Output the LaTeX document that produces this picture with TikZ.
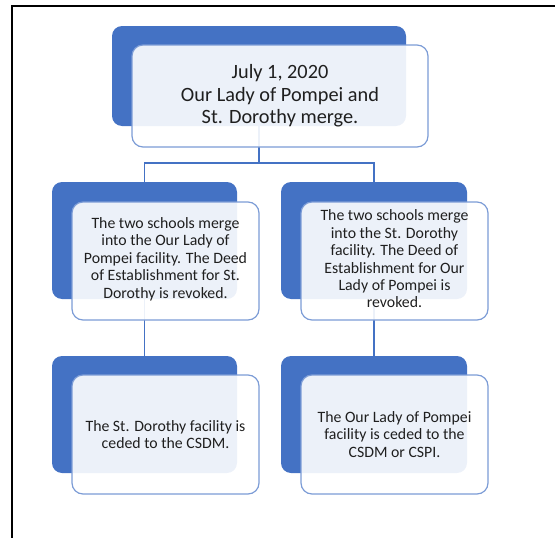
\documentclass[tikz,border=0pt]{standalone}
\usepackage{fontspec}
\setmainfont{Carlito}
\usetikzlibrary{backgrounds}
\definecolor{accent}{HTML}{4472C4}
\definecolor{frontline}{HTML}{7C9CD6}
\definecolor{txt}{HTML}{1F1F1F}
\tikzset{
  backbox/.style={fill=accent, draw=none, rounded corners=10pt, inner sep=0pt},
  frontbox/.style={fill=white, fill opacity=0.9, text opacity=1, draw=frontline, line width=1.2pt,
    rounded corners=11pt, inner sep=0pt, align=center, text=txt},
  boxtext/.style={inner sep=0pt, align=center, text=txt},
  midtext/.style={font=\fontsize{15.8}{17.4}\selectfont},
  toptext/.style={font=\fontsize{20.3}{22.5}\selectfont},
  link/.style={draw=accent, line width=1.2pt},
  frame/.style={draw=black, line width=1.4pt}
}
\begin{document}
\begin{tikzpicture}[x=1pt, y=-1pt]
\useasboundingbox (0,0) rectangle (555,538);
\coordinate (fa) at (12,538);
\coordinate (fb) at (12,6);
\coordinate (fc) at (555,6);
\draw[frame] (fa) -- (fb) -- (fc);

% back boxes
\node[backbox, minimum width=294pt, minimum height=100pt] (tb) at (259,76) {};
\node[backbox, minimum width=185pt, minimum height=117pt] (mlb) at (144.5,240.5) {};
\node[backbox, minimum width=186pt, minimum height=117pt] (mrb) at (374,240.5) {};
\node[backbox, minimum width=185pt, minimum height=117pt] (blb) at (144.5,414.5) {};
\node[backbox, minimum width=186pt, minimum height=117pt] (brb) at (374,414.5) {};

% front boxes
\node[frontbox, toptext, minimum width=296pt, minimum height=102pt] (tf) at (280,96)
  {July 1, 2020\\Our Lady of Pompei and\\St. Dorothy merge.};
\node[frontbox, minimum width=187pt, minimum height=118pt] (mlf) at (165.5,261) {};
\node[boxtext, midtext] (mlt) at (165.5,259)
  {The two schools merge\\into the Our Lady of\\Pompei facility. The Deed\\of Establishment for St.\\Dorothy is revoked.};
\node[frontbox, minimum width=187pt, minimum height=118pt] (mrf) at (394.5,261) {};
\node[boxtext, midtext] (mrt) at (394.5,259)
  {The two schools merge\\into the St. Dorothy\\facility. The Deed of\\Establishment for Our\\Lady of Pompei is\\revoked.};
\node[frontbox, midtext, minimum width=187pt, minimum height=119pt] (blf) at (165.5,434.5)
  {The St. Dorothy facility is\\ceded to the CSDM.};
\node[frontbox, midtext, minimum width=187pt, minimum height=119pt] (brf) at (394.5,434.5)
  {The Our Lady of Pompei\\facility is ceded to the\\CSDM or CSPI.};

\coordinate (bus) at (0,163);
\begin{scope}[on background layer]
  \draw[link] (tb.center) -- (tb.center |- bus) -| (mlb.center);
  \draw[link] (tb.center |- bus) -| (mrb.center);
  \draw[link] (mlb.center) -- (blb.center);
  \draw[link] (mrb.center) -- (brb.center);
\end{scope}
\end{tikzpicture}
\end{document}
